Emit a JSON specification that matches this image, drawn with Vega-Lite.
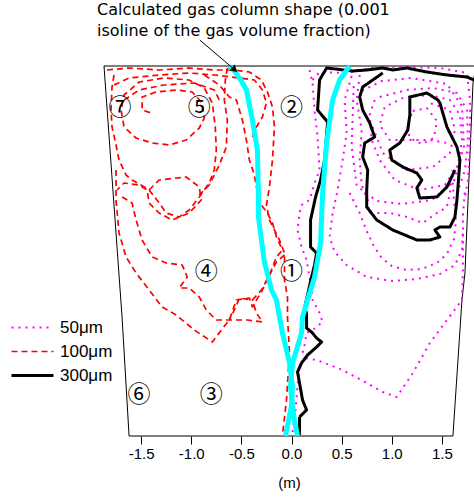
{
"$schema":"https://vega.github.io/schema/vega-lite/v6.json",
"width":376,"height":370,
"autosize":{"type":"none"},
"padding":{"left":101,"top":66,"right":0,"bottom":61},
"background":"white",
"config":{"view":{"stroke":null},"font":"Liberation Sans",
 "legend":{"orient":"none","legendX":-77,"legendY":253,"title":null,"symbolType":"M-3,0H3","symbolSize":196,"labelFontSize":17,"labelFont":"Liberation Sans","labelColor":"black","labelOffset":19,"rowPadding":6,"padding":0}},
"title":{"text":["Calculated gas column shape (0.001","isoline of the gas volume fraction)"],"anchor":"start","frame":"group","font":"DejaVu Sans","fontSize":16,"fontWeight":"normal","lineHeight":21,"dx":-4,"offset":1,"color":"black"},
"datasets":{
"vessel":[{"x":-1.87,"y":3.70},{"x":-1.69,"y":1.19},{"x":-1.62,"y":0},{"x":1.61,"y":0},{"x":1.70,"y":1.36},{"x":1.73,"y":1.63},{"x":1.81,"y":3.53},{"x":1.84,"y":3.70},{"x":-1.87,"y":3.70}],
"gas":[
{"g":"c1","x":-0.62,"y":3.70},{"g":"c1","x":-0.56,"y":3.64},{"g":"c1","x":-0.50,"y":3.55},{"g":"c1","x":-0.45,"y":3.46},{"g":"c1","x":-0.39,"y":3.16},{"g":"c1","x":-0.34,"y":2.86},{"g":"c1","x":-0.33,"y":2.43},{"g":"c1","x":-0.33,"y":2.19},{"g":"c1","x":-0.30,"y":1.96},{"g":"c1","x":-0.27,"y":1.74},{"g":"c1","x":-0.20,"y":1.46},{"g":"c1","x":-0.15,"y":1.36},{"g":"c1","x":-0.12,"y":1.19},{"g":"c1","x":-0.09,"y":1.03},{"g":"c1","x":-0.02,"y":0.73},{"g":"c1","x":0.01,"y":0.49},{"g":"c1","x":0.00,"y":0.30},{"g":"c1","x":-0.03,"y":0.15},{"g":"c1","x":-0.06,"y":0.0},
{"g":"c2","x":0.58,"y":3.70},{"g":"c2","x":0.48,"y":3.56},{"g":"c2","x":0.41,"y":3.36},{"g":"c2","x":0.35,"y":2.93},{"g":"c2","x":0.31,"y":2.43},{"g":"c2","x":0.29,"y":1.93},{"g":"c2","x":0.23,"y":1.59},{"g":"c2","x":0.16,"y":1.36},{"g":"c2","x":0.11,"y":1.19},{"g":"c2","x":0.10,"y":1.03},{"g":"c2","x":0.01,"y":0.73},{"g":"c2","x":-0.01,"y":0.49},{"g":"c2","x":0.01,"y":0.30},{"g":"c2","x":0.03,"y":0.15},{"g":"c2","x":0.06,"y":0.0}
],
"traj":[
{"s":"50μm","g":"m1","x":0.01,"y":0.04},{"s":"50μm","g":"m1","x":0.04,"y":0.26},{"s":"50μm","g":"m1","x":0.06,"y":0.51},{"s":"50μm","g":"m1","x":0.08,"y":0.68},{"s":"50μm","g":"m1","x":0.13,"y":0.78},{"s":"50μm","g":"m1","x":0.25,"y":0.76},{"s":"50μm","g":"m1","x":0.38,"y":0.71},{"s":"50μm","g":"m1","x":0.51,"y":0.66},{"s":"50μm","g":"m1","x":0.75,"y":0.53},{"s":"50μm","g":"m1","x":0.91,"y":0.44},{"s":"50μm","g":"m1","x":1.05,"y":0.39},{"s":"50μm","g":"m1","x":1.21,"y":0.63},{"s":"50μm","g":"m1","x":1.38,"y":0.93},{"s":"50μm","g":"m1","x":1.55,"y":1.16},{"s":"50μm","g":"m1","x":1.70,"y":1.36},{"s":"50μm","g":"m1","x":1.71,"y":1.66},{"s":"50μm","g":"m1","x":1.71,"y":1.96},{"s":"50μm","g":"m1","x":1.71,"y":2.21},{"s":"50μm","g":"m1","x":1.73,"y":2.46},
{"s":"50μm","g":"m2","x":0.18,"y":3.66},{"s":"50μm","g":"m2","x":0.21,"y":3.53},{"s":"50μm","g":"m2","x":0.23,"y":3.26},{"s":"50μm","g":"m2","x":0.26,"y":2.99},{"s":"50μm","g":"m2","x":0.28,"y":2.66},{"s":"50μm","g":"m2","x":0.23,"y":2.53},{"s":"50μm","g":"m2","x":0.18,"y":2.36},{"s":"50μm","g":"m2","x":0.10,"y":2.31},{"s":"50μm","g":"m2","x":0.08,"y":2.23},{"s":"50μm","g":"m2","x":0.06,"y":2.06},{"s":"50μm","g":"m2","x":0.10,"y":1.89},{"s":"50μm","g":"m2","x":0.15,"y":1.76},{"s":"50μm","g":"m2","x":0.18,"y":1.59},{"s":"50μm","g":"m2","x":0.21,"y":1.36},{"s":"50μm","g":"m2","x":0.28,"y":1.23},{"s":"50μm","g":"m2","x":0.31,"y":1.14},{"s":"50μm","g":"m2","x":0.24,"y":1.08},{"s":"50μm","g":"m2","x":0.15,"y":1.03},{"s":"50μm","g":"m2","x":0.13,"y":0.91},{"s":"50μm","g":"m2","x":0.11,"y":0.83},
{"s":"50μm","g":"m3","x":0.60,"y":3.60},{"s":"50μm","g":"m3","x":0.53,"y":3.36},{"s":"50μm","g":"m3","x":0.55,"y":3.03},{"s":"50μm","g":"m3","x":0.51,"y":2.76},{"s":"50μm","g":"m3","x":0.46,"y":2.46},{"s":"50μm","g":"m3","x":0.41,"y":2.23},{"s":"50μm","g":"m3","x":0.38,"y":1.99},{"s":"50μm","g":"m3","x":0.43,"y":1.84},{"s":"50μm","g":"m3","x":0.55,"y":1.71},{"s":"50μm","g":"m3","x":0.75,"y":1.59},{"s":"50μm","g":"m3","x":1.01,"y":1.55},{"s":"50μm","g":"m3","x":1.25,"y":1.57},{"s":"50μm","g":"m3","x":1.48,"y":1.62},{"s":"50μm","g":"m3","x":1.63,"y":1.71},{"s":"50μm","g":"m3","x":1.70,"y":1.86},{"s":"50μm","g":"m3","x":1.71,"y":2.06},
{"s":"50μm","g":"m4","x":0.58,"y":2.43},{"s":"50μm","g":"m4","x":0.68,"y":2.23},{"s":"50μm","g":"m4","x":0.75,"y":2.05},{"s":"50μm","g":"m4","x":0.82,"y":1.90},{"s":"50μm","g":"m4","x":0.90,"y":1.78},{"s":"50μm","g":"m4","x":1.00,"y":1.70},{"s":"50μm","g":"m4","x":1.15,"y":1.66},{"s":"50μm","g":"m4","x":1.30,"y":1.67},{"s":"50μm","g":"m4","x":1.45,"y":1.73},{"s":"50μm","g":"m4","x":1.55,"y":1.82},{"s":"50μm","g":"m4","x":1.62,"y":1.97},{"s":"50μm","g":"m4","x":1.64,"y":2.15},{"s":"50μm","g":"m4","x":1.62,"y":2.36},{"s":"50μm","g":"m4","x":1.60,"y":2.66},
{"s":"50μm","g":"m5","x":0.75,"y":2.36},{"s":"50μm","g":"m5","x":0.78,"y":2.23},{"s":"50μm","g":"m5","x":0.98,"y":2.23},{"s":"50μm","g":"m5","x":1.15,"y":2.19},{"s":"50μm","g":"m5","x":1.31,"y":2.13},{"s":"50μm","g":"m5","x":1.45,"y":2.23},{"s":"50μm","g":"m5","x":1.55,"y":2.29},{"s":"50μm","g":"m5","x":1.58,"y":2.43},{"s":"50μm","g":"m5","x":1.60,"y":2.61},
{"s":"50μm","g":"m6","x":0.21,"y":3.56},{"s":"50μm","g":"m6","x":0.28,"y":3.64},{"s":"50μm","g":"m6","x":0.55,"y":3.63},{"s":"50μm","g":"m6","x":0.81,"y":3.68},{"s":"50μm","g":"m6","x":1.15,"y":3.69},{"s":"50μm","g":"m6","x":1.48,"y":3.68},{"s":"50μm","g":"m6","x":1.75,"y":3.63},{"s":"50μm","g":"m6","x":1.78,"y":3.36},{"s":"50μm","g":"m6","x":1.78,"y":2.93},{"s":"50μm","g":"m6","x":1.76,"y":2.56},{"s":"50μm","g":"m6","x":1.73,"y":2.39},
{"s":"50μm","g":"m9","x":0.88,"y":3.39},{"s":"50μm","g":"m9","x":1.15,"y":3.46},{"s":"50μm","g":"m9","x":1.41,"y":3.48},{"s":"50μm","g":"m9","x":1.65,"y":3.43},{"s":"50μm","g":"m9","x":1.75,"y":3.26},{"s":"50μm","g":"m9","x":1.76,"y":2.93},{"s":"50μm","g":"m9","x":1.73,"y":2.66},{"s":"50μm","g":"m9","x":1.66,"y":2.45},
{"s":"50μm","g":"m10","x":0.81,"y":3.09},{"s":"50μm","g":"m10","x":0.91,"y":2.83},{"s":"50μm","g":"m10","x":1.15,"y":2.66},{"s":"50μm","g":"m10","x":1.41,"y":2.69},{"s":"50μm","g":"m10","x":1.58,"y":2.83},{"s":"50μm","g":"m10","x":1.63,"y":3.06},{"s":"50μm","g":"m10","x":1.58,"y":3.26},{"s":"50μm","g":"m10","x":1.38,"y":3.33},
{"s":"50μm","g":"m11","x":0.83,"y":3.36},{"s":"50μm","g":"m11","x":0.78,"y":3.21},{"s":"50μm","g":"m11","x":0.80,"y":2.96},{"s":"50μm","g":"m11","x":0.88,"y":2.76},{"s":"50μm","g":"m11","x":1.03,"y":2.56},{"s":"50μm","g":"m11","x":1.28,"y":2.46},{"s":"50μm","g":"m11","x":1.53,"y":2.51},{"s":"50μm","g":"m11","x":1.66,"y":2.71},{"s":"50μm","g":"m11","x":1.70,"y":2.96},{"s":"50μm","g":"m11","x":1.68,"y":3.21},{"s":"50μm","g":"m11","x":1.58,"y":3.36},{"s":"50μm","g":"m11","x":1.38,"y":3.41},{"s":"50μm","g":"m11","x":1.13,"y":3.39},{"s":"50μm","g":"m11","x":0.93,"y":3.29},{"s":"50μm","g":"m11","x":0.88,"y":3.11},{"s":"50μm","g":"m11","x":0.98,"y":2.96},{"s":"50μm","g":"m11","x":1.21,"y":2.96},{"s":"50μm","g":"m11","x":1.38,"y":2.96},{"s":"50μm","g":"m11","x":1.55,"y":2.93},
{"s":"50μm","g":"m12","x":0.68,"y":3.61},{"s":"50μm","g":"m12","x":0.65,"y":3.36},{"s":"50μm","g":"m12","x":0.70,"y":3.06},{"s":"50μm","g":"m12","x":0.68,"y":2.76},{"s":"50μm","g":"m12","x":0.70,"y":2.51},{"s":"50μm","g":"m12","x":0.78,"y":2.31},
{"s":"50μm","g":"m13","x":1.21,"y":3.25},{"s":"50μm","g":"m13","x":1.35,"y":3.28},{"s":"50μm","g":"m13","x":1.45,"y":3.15},{"s":"50μm","g":"m13","x":1.42,"y":2.98},{"s":"50μm","g":"m13","x":1.30,"y":2.92},{"s":"50μm","g":"m13","x":1.18,"y":2.98},{"s":"50μm","g":"m13","x":1.15,"y":3.10},{"s":"50μm","g":"m13","x":1.21,"y":3.25},
{"s":"50μm","g":"m14","x":0.62,"y":3.50},{"s":"50μm","g":"m14","x":0.60,"y":2.90},{"s":"50μm","g":"m14","x":0.65,"y":2.50},{"s":"50μm","g":"m14","x":0.85,"y":2.35},{"s":"50μm","g":"m14","x":1.10,"y":2.32},{"s":"50μm","g":"m14","x":1.40,"y":2.36},{"s":"50μm","g":"m14","x":1.62,"y":2.55},{"s":"50μm","g":"m14","x":1.72,"y":2.90},{"s":"50μm","g":"m14","x":1.70,"y":3.30},{"s":"50μm","g":"m14","x":1.55,"y":3.52},{"s":"50μm","g":"m14","x":1.20,"y":3.58},{"s":"50μm","g":"m14","x":0.90,"y":3.55},{"s":"50μm","g":"m14","x":0.70,"y":3.45},
{"s":"100μm","g":"r1","x":-1.84,"y":3.66},{"s":"100μm","g":"r1","x":-1.62,"y":3.68},{"s":"100μm","g":"r1","x":-1.32,"y":3.66},{"s":"100μm","g":"r1","x":-1.02,"y":3.68},{"s":"100μm","g":"r1","x":-0.77,"y":3.66},{"s":"100μm","g":"r1","x":-0.57,"y":3.66},{"s":"100μm","g":"r1","x":-0.42,"y":3.64},{"s":"100μm","g":"r1","x":-0.30,"y":3.56},{"s":"100μm","g":"r1","x":-0.24,"y":3.44},{"s":"100μm","g":"r1","x":-0.19,"y":3.29},{"s":"100μm","g":"r1","x":-0.17,"y":3.09},{"s":"100μm","g":"r1","x":-0.19,"y":2.76},{"s":"100μm","g":"r1","x":-0.22,"y":2.49},{"s":"100μm","g":"r1","x":-0.25,"y":2.31},{"s":"100μm","g":"r1","x":-0.22,"y":2.16},{"s":"100μm","g":"r1","x":-0.12,"y":1.96},{"s":"100μm","g":"r1","x":-0.07,"y":1.83},{"s":"100μm","g":"r1","x":-0.07,"y":1.56},{"s":"100μm","g":"r1","x":-0.04,"y":1.39},{"s":"100μm","g":"r1","x":-0.04,"y":1.19},{"s":"100μm","g":"r1","x":-0.02,"y":0.83},{"s":"100μm","g":"r1","x":-0.05,"y":0.36},{"s":"100μm","g":"r1","x":-0.09,"y":0.01},
{"s":"100μm","g":"r2","x":-1.77,"y":3.61},{"s":"100μm","g":"r2","x":-1.79,"y":3.49},{"s":"100μm","g":"r2","x":-1.80,"y":3.26},{"s":"100μm","g":"r2","x":-1.79,"y":3.09},{"s":"100μm","g":"r2","x":-1.75,"y":2.91},{"s":"100μm","g":"r2","x":-1.72,"y":2.76},{"s":"100μm","g":"r2","x":-1.65,"y":2.61},{"s":"100μm","g":"r2","x":-1.59,"y":2.56},{"s":"100μm","g":"r2","x":-1.45,"y":2.48},{"s":"100μm","g":"r2","x":-1.42,"y":2.46},{"s":"100μm","g":"r2","x":-1.32,"y":2.33},{"s":"100μm","g":"r2","x":-1.25,"y":2.23},{"s":"100μm","g":"r2","x":-1.12,"y":2.19},{"s":"100μm","g":"r2","x":-1.02,"y":2.26},{"s":"100μm","g":"r2","x":-0.92,"y":2.39},{"s":"100μm","g":"r2","x":-0.82,"y":2.53},{"s":"100μm","g":"r2","x":-0.77,"y":2.66},{"s":"100μm","g":"r2","x":-0.75,"y":2.86},{"s":"100μm","g":"r2","x":-0.76,"y":3.09},{"s":"100μm","g":"r2","x":-0.79,"y":3.33},{"s":"100μm","g":"r2","x":-0.87,"y":3.48},{"s":"100μm","g":"r2","x":-1.02,"y":3.56},{"s":"100μm","g":"r2","x":-1.27,"y":3.58},{"s":"100μm","g":"r2","x":-1.52,"y":3.54},{"s":"100μm","g":"r2","x":-1.67,"y":3.41},{"s":"100μm","g":"r2","x":-1.70,"y":3.26},{"s":"100μm","g":"r2","x":-1.67,"y":3.09},{"s":"100μm","g":"r2","x":-1.55,"y":2.98},{"s":"100μm","g":"r2","x":-1.39,"y":2.93},{"s":"100μm","g":"r2","x":-1.22,"y":2.91},{"s":"100μm","g":"r2","x":-1.05,"y":2.96},{"s":"100μm","g":"r2","x":-0.92,"y":3.08},{"s":"100μm","g":"r2","x":-0.87,"y":3.18},{"s":"100μm","g":"r2","x":-0.89,"y":3.33},{"s":"100μm","g":"r2","x":-0.99,"y":3.44},{"s":"100μm","g":"r2","x":-1.15,"y":3.46},{"s":"100μm","g":"r2","x":-1.35,"y":3.44},{"s":"100μm","g":"r2","x":-1.49,"y":3.39},{"s":"100μm","g":"r2","x":-1.49,"y":3.26},{"s":"100μm","g":"r2","x":-1.40,"y":3.23},
{"s":"100μm","g":"r3","x":-1.42,"y":2.46},{"s":"100μm","g":"r3","x":-1.32,"y":2.56},{"s":"100μm","g":"r3","x":-1.05,"y":2.59},{"s":"100μm","g":"r3","x":-0.92,"y":2.49},{"s":"100μm","g":"r3","x":-0.90,"y":2.36},{"s":"100μm","g":"r3","x":-1.02,"y":2.23},{"s":"100μm","g":"r3","x":-1.19,"y":2.16},{"s":"100μm","g":"r3","x":-1.32,"y":2.23},{"s":"100μm","g":"r3","x":-1.42,"y":2.33},{"s":"100μm","g":"r3","x":-1.44,"y":2.46},{"s":"100μm","g":"r3","x":-1.52,"y":2.51},{"s":"100μm","g":"r3","x":-1.67,"y":2.53},{"s":"100μm","g":"r3","x":-1.74,"y":2.46},
{"s":"100μm","g":"r4","x":-1.75,"y":2.66},{"s":"100μm","g":"r4","x":-1.75,"y":2.36},{"s":"100μm","g":"r4","x":-1.72,"y":2.03},{"s":"100μm","g":"r4","x":-1.65,"y":1.79},{"s":"100μm","g":"r4","x":-1.55,"y":1.63},{"s":"100μm","g":"r4","x":-1.42,"y":1.46},{"s":"100μm","g":"r4","x":-1.29,"y":1.29},{"s":"100μm","g":"r4","x":-1.15,"y":1.21},{"s":"100μm","g":"r4","x":-0.97,"y":1.06},{"s":"100μm","g":"r4","x":-0.79,"y":0.94},{"s":"100μm","g":"r4","x":-0.70,"y":1.06},{"s":"100μm","g":"r4","x":-0.62,"y":1.16},{"s":"100μm","g":"r4","x":-0.55,"y":1.36},{"s":"100μm","g":"r4","x":-0.42,"y":1.38},{"s":"100μm","g":"r4","x":-0.39,"y":1.29},{"s":"100μm","g":"r4","x":-0.29,"y":1.46},{"s":"100μm","g":"r4","x":-0.20,"y":1.66},{"s":"100μm","g":"r4","x":-0.15,"y":1.79},{"s":"100μm","g":"r4","x":-0.09,"y":1.86},
{"s":"100μm","g":"r5","x":-1.69,"y":2.39},{"s":"100μm","g":"r5","x":-1.59,"y":2.33},{"s":"100μm","g":"r5","x":-1.55,"y":2.16},{"s":"100μm","g":"r5","x":-1.49,"y":1.96},{"s":"100μm","g":"r5","x":-1.39,"y":1.79},{"s":"100μm","g":"r5","x":-1.25,"y":1.73},{"s":"100μm","g":"r5","x":-1.09,"y":1.71},{"s":"100μm","g":"r5","x":-1.04,"y":1.59},{"s":"100μm","g":"r5","x":-1.12,"y":1.48},{"s":"100μm","g":"r5","x":-1.02,"y":1.48},{"s":"100μm","g":"r5","x":-0.92,"y":1.39},{"s":"100μm","g":"r5","x":-0.85,"y":1.26},{"s":"100μm","g":"r5","x":-0.75,"y":1.16},{"s":"100μm","g":"r5","x":-0.62,"y":1.16},{"s":"100μm","g":"r5","x":-0.44,"y":1.16},{"s":"100μm","g":"r5","x":-0.29,"y":1.14},{"s":"100μm","g":"r5","x":-0.35,"y":1.23},{"s":"100μm","g":"r5","x":-0.39,"y":1.36},
{"s":"100μm","g":"r6","x":-0.64,"y":3.68},{"s":"100μm","g":"r6","x":-0.66,"y":3.56},{"s":"100μm","g":"r6","x":-0.67,"y":3.36},{"s":"100μm","g":"r6","x":-0.64,"y":3.16},{"s":"100μm","g":"r6","x":-0.65,"y":2.89},{"s":"100μm","g":"r6","x":-0.72,"y":2.71},{"s":"100μm","g":"r6","x":-0.82,"y":2.51},{"s":"100μm","g":"r6","x":-0.92,"y":2.41},
{"s":"100μm","g":"r7","x":-0.87,"y":3.61},{"s":"100μm","g":"r7","x":-0.72,"y":3.51},{"s":"100μm","g":"r7","x":-0.62,"y":3.39},{"s":"100μm","g":"r7","x":-0.55,"y":3.36},{"s":"100μm","g":"r7","x":-0.49,"y":3.16},{"s":"100μm","g":"r7","x":-0.45,"y":2.96},{"s":"100μm","g":"r7","x":-0.42,"y":2.76},{"s":"100μm","g":"r7","x":-0.37,"y":2.61},{"s":"100μm","g":"r7","x":-0.35,"y":2.49},{"s":"100μm","g":"r7","x":-0.30,"y":2.31},{"s":"100μm","g":"r7","x":-0.24,"y":2.23},{"s":"100μm","g":"r7","x":-0.19,"y":2.13},{"s":"100μm","g":"r7","x":-0.15,"y":1.99},{"s":"100μm","g":"r7","x":-0.09,"y":1.86},
{"s":"100μm","g":"r8","x":-1.77,"y":3.51},{"s":"100μm","g":"r8","x":-1.62,"y":3.58},{"s":"100μm","g":"r8","x":-1.32,"y":3.61},{"s":"100μm","g":"r8","x":-1.02,"y":3.63},{"s":"100μm","g":"r8","x":-0.77,"y":3.61},{"s":"100μm","g":"r8","x":-0.52,"y":3.58},{"s":"100μm","g":"r8","x":-0.37,"y":3.56},{"s":"100μm","g":"r8","x":-0.29,"y":3.46},{"s":"100μm","g":"r8","x":-0.25,"y":3.33},{"s":"100μm","g":"r8","x":-0.29,"y":3.19},{"s":"100μm","g":"r8","x":-0.35,"y":3.09},{"s":"100μm","g":"r8","x":-0.40,"y":2.96},
{"s":"100μm","g":"r9","x":-1.67,"y":3.36},{"s":"100μm","g":"r9","x":-1.52,"y":3.46},{"s":"100μm","g":"r9","x":-1.27,"y":3.51},{"s":"100μm","g":"r9","x":-0.97,"y":3.53},{"s":"100μm","g":"r9","x":-0.77,"y":3.46},{"s":"100μm","g":"r9","x":-0.72,"y":3.36},
{"s":"100μm","g":"r10","x":-0.07,"y":1.81},{"s":"100μm","g":"r10","x":-0.15,"y":1.74},{"s":"100μm","g":"r10","x":-0.22,"y":1.61},{"s":"100μm","g":"r10","x":-0.30,"y":1.46},{"s":"100μm","g":"r10","x":-0.39,"y":1.36},{"s":"100μm","g":"r10","x":-0.52,"y":1.38},{"s":"100μm","g":"r10","x":-0.56,"y":1.28},{"s":"100μm","g":"r10","x":-0.62,"y":1.16},
{"s":"300μm","g":"b1","x":0.08,"y":0.01},{"s":"300μm","g":"b1","x":0.08,"y":0.19},{"s":"300μm","g":"b1","x":0.15,"y":0.26},{"s":"300μm","g":"b1","x":0.11,"y":0.36},{"s":"300μm","g":"b1","x":0.08,"y":0.53},{"s":"300μm","g":"b1","x":0.06,"y":0.64},{"s":"300μm","g":"b1","x":0.10,"y":0.73},{"s":"300μm","g":"b1","x":0.16,"y":0.81},{"s":"300μm","g":"b1","x":0.25,"y":0.89},{"s":"300μm","g":"b1","x":0.30,"y":0.94},{"s":"300μm","g":"b1","x":0.25,"y":0.98},{"s":"300μm","g":"b1","x":0.20,"y":1.04},{"s":"300μm","g":"b1","x":0.15,"y":1.08},{"s":"300μm","g":"b1","x":0.15,"y":1.23},{"s":"300μm","g":"b1","x":0.13,"y":1.28},{"s":"300μm","g":"b1","x":0.16,"y":1.41},{"s":"300μm","g":"b1","x":0.20,"y":1.59},{"s":"300μm","g":"b1","x":0.23,"y":1.71},{"s":"300μm","g":"b1","x":0.25,"y":1.83},{"s":"300μm","g":"b1","x":0.19,"y":1.89},{"s":"300μm","g":"b1","x":0.19,"y":2.16},{"s":"300μm","g":"b1","x":0.24,"y":2.39},{"s":"300μm","g":"b1","x":0.29,"y":2.56},{"s":"300μm","g":"b1","x":0.33,"y":2.76},{"s":"300μm","g":"b1","x":0.36,"y":3.14},{"s":"300μm","g":"b1","x":0.26,"y":3.26},{"s":"300μm","g":"b1","x":0.27,"y":3.41},{"s":"300μm","g":"b1","x":0.28,"y":3.56},{"s":"300μm","g":"b1","x":0.35,"y":3.68},{"s":"300μm","g":"b1","x":0.61,"y":3.65},{"s":"300μm","g":"b1","x":0.75,"y":3.66},{"s":"300μm","g":"b1","x":0.91,"y":3.68},{"s":"300μm","g":"b1","x":1.01,"y":3.66},{"s":"300μm","g":"b1","x":1.15,"y":3.68},{"s":"300μm","g":"b1","x":1.35,"y":3.64},{"s":"300μm","g":"b1","x":1.55,"y":3.61},{"s":"300μm","g":"b1","x":1.75,"y":3.59},{"s":"300μm","g":"b1","x":1.82,"y":3.56},
{"s":"300μm","g":"b2","x":0.91,"y":3.63},{"s":"300μm","g":"b2","x":0.81,"y":3.56},{"s":"300μm","g":"b2","x":0.71,"y":3.49},{"s":"300μm","g":"b2","x":0.68,"y":3.39},{"s":"300μm","g":"b2","x":0.71,"y":3.26},{"s":"300μm","g":"b2","x":0.78,"y":3.13},{"s":"300μm","g":"b2","x":0.83,"y":2.99},{"s":"300μm","g":"b2","x":0.73,"y":2.93},{"s":"300μm","g":"b2","x":0.71,"y":2.79},{"s":"300μm","g":"b2","x":0.76,"y":2.66},{"s":"300μm","g":"b2","x":0.75,"y":2.46},{"s":"300μm","g":"b2","x":0.75,"y":2.29},{"s":"300μm","g":"b2","x":0.85,"y":2.16},{"s":"300μm","g":"b2","x":1.01,"y":2.06},{"s":"300μm","g":"b2","x":1.25,"y":1.96},{"s":"300μm","g":"b2","x":1.38,"y":1.96},{"s":"300μm","g":"b2","x":1.48,"y":1.99},{"s":"300μm","g":"b2","x":1.43,"y":2.06},{"s":"300μm","g":"b2","x":1.48,"y":2.09},{"s":"300μm","g":"b2","x":1.58,"y":2.09},{"s":"300μm","g":"b2","x":1.63,"y":2.19},{"s":"300μm","g":"b2","x":1.65,"y":2.36},{"s":"300μm","g":"b2","x":1.66,"y":2.49},{"s":"300μm","g":"b2","x":1.68,"y":2.76},{"s":"300μm","g":"b2","x":1.65,"y":2.89},{"s":"300μm","g":"b2","x":1.55,"y":3.09},{"s":"300μm","g":"b2","x":1.48,"y":3.33},{"s":"300μm","g":"b2","x":1.46,"y":3.36},{"s":"300μm","g":"b2","x":1.35,"y":3.43},{"s":"300μm","g":"b2","x":1.18,"y":3.39},{"s":"300μm","g":"b2","x":1.18,"y":3.21},{"s":"300μm","g":"b2","x":1.16,"y":3.06},{"s":"300μm","g":"b2","x":1.08,"y":2.93},{"s":"300μm","g":"b2","x":0.98,"y":2.86},{"s":"300μm","g":"b2","x":1.00,"y":2.76},{"s":"300μm","g":"b2","x":1.11,"y":2.69},{"s":"300μm","g":"b2","x":1.25,"y":2.63},{"s":"300μm","g":"b2","x":1.30,"y":2.56},{"s":"300μm","g":"b2","x":1.25,"y":2.48},{"s":"300μm","g":"b2","x":1.28,"y":2.38},{"s":"300μm","g":"b2","x":1.45,"y":2.39},{"s":"300μm","g":"b2","x":1.55,"y":2.49},{"s":"300μm","g":"b2","x":1.63,"y":2.66}
],
"labels":[{"t":"①","x":0.0,"y":1.64},{"t":"②","x":0.0,"y":3.28},{"t":"③","x":-0.80,"y":0.41},{"t":"④","x":-0.85,"y":1.64},{"t":"⑤","x":-0.92,"y":3.28},{"t":"⑥","x":-1.52,"y":0.41},{"t":"⑦","x":-1.71,"y":3.28}],
"arrow":[{"x":-0.915,"y":3.96,"x2":-0.575,"y2":3.67}]
},
"layer":[
{"data":{"name":"vessel"},"mark":{"type":"line","color":"black","strokeWidth":1},
 "encoding":{
  "x":{"field":"x","type":"quantitative","scale":{"domain":[-1.9,1.85],"nice":false,"zero":false},
   "axis":{"values":[-1.5,-1.25,-1,-0.75,-0.5,-0.25,0,0.25,0.5,0.75,1,1.25,1.5],"labelExpr":"abs(datum.value*2-round(datum.value*2))>0.01 ? '' : (datum.value<0?'-':'')+format(abs(datum.value),'.1f')","domain":false,"grid":false,
    "tickSize":{"condition":{"test":"abs(datum.value*2-round(datum.value*2))>0.01","value":4},"value":8},
    "tickColor":"black","labelFont":"Liberation Sans","labelFontSize":15,"labelColor":"black","labelPadding":2,"labelBound":false,"labelOverlap":false,"title":"(m)","titleFont":"Liberation Sans","titleFontSize":15,"titleFontWeight":"normal","titleColor":"black","titlePadding":14}},
  "y":{"field":"y","type":"quantitative","scale":{"domain":[0,3.7],"nice":false,"zero":false},"axis":null},
  "order":{"value":null}}},
{"data":{"name":"traj"},"mark":{"type":"line","strokeCap":"butt","strokeJoin":"round"},
 "encoding":{
  "x":{"field":"x","type":"quantitative"},
  "y":{"field":"y","type":"quantitative"},
  "color":{"field":"s","type":"nominal","scale":{"domain":["50μm","100μm","300μm"],"range":["#ff00ff","#ff0000","#000000"]},"legend":{"title":null}},
  "strokeDash":{"field":"s","type":"nominal","scale":{"domain":["50μm","100μm","300μm"],"range":[[2,5],[6,4],[1,0]]},"legend":{"title":null}},
  "strokeWidth":{"field":"s","type":"nominal","scale":{"type":"ordinal","domain":["50μm","100μm","300μm"],"range":[2,1.7,3]},"legend":{"title":null}},
  "detail":{"field":"g"},
  "order":{"value":null}}},
{"data":{"name":"gas"},"mark":{"type":"line","color":"#00ffff","strokeWidth":5,"strokeCap":"butt"},
 "encoding":{"x":{"field":"x","type":"quantitative"},"y":{"field":"y","type":"quantitative"},"detail":{"field":"g"},"order":{"value":null}}},
{"data":{"name":"labels"},"mark":{"type":"text","font":"Noto Sans CJK JP","fontSize":23,"color":"black","baseline":"middle","align":"center"},
 "encoding":{"x":{"field":"x","type":"quantitative"},"y":{"field":"y","type":"quantitative"},"text":{"field":"t"}}},
{"data":{"name":"arrow"},"mark":{"type":"rule","color":"black","strokeWidth":1},
 "encoding":{"x":{"field":"x","type":"quantitative"},"y":{"field":"y","type":"quantitative"},"x2":{"field":"x2"},"y2":{"field":"y2"}}},
{"data":{"name":"arrow"},"mark":{"type":"point","shape":"triangle","filled":true,"color":"black","opacity":1,"size":60,"angle":131},
 "encoding":{"x":{"field":"x2","type":"quantitative"},"y":{"field":"y2","type":"quantitative"}}}
]
}
